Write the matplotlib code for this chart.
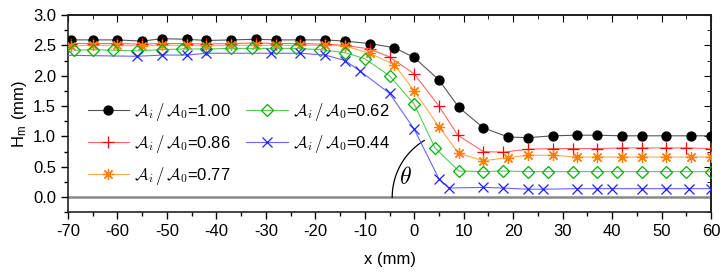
import numpy as np
import matplotlib
matplotlib.use("Agg")
import matplotlib.pyplot as plt
from matplotlib.ticker import MultipleLocator

plt.rcParams['font.family'] = ['Liberation Sans', 'DejaVu Sans']
plt.rcParams['mathtext.fontset'] = 'cm'
plt.rcParams['axes.unicode_minus'] = False

ratios = ["1.00", "0.86", "0.77", "0.62", "0.44"]

x_100 = [-69.3, -65, -60, -55, -51, -46, -42, -37, -32, -28, -23, -18, -14, -9, -4, 0, 5, 9, 14, 19, 23, 28, 33, 37, 42, 46, 51, 56, 60]
y_100 = [2.59, 2.59, 2.59, 2.57, 2.61, 2.60, 2.58, 2.59, 2.60, 2.59, 2.59, 2.59, 2.57, 2.53, 2.46, 2.30, 1.93, 1.48, 1.14, 0.99, 0.98, 1.01, 1.02, 1.02, 1.01, 1.01, 1.01, 1.01, 1.01]

x_086 = [-69.3, -65, -60, -55, -51, -46, -42, -37, -32, -28, -23, -18, -14, -9, -5, 0, 5, 8.8, 14, 18, 23, 28, 32, 37, 42, 46, 51, 55, 60]
y_086 = [2.53, 2.53, 2.53, 2.52, 2.53, 2.53, 2.52, 2.53, 2.54, 2.53, 2.53, 2.52, 2.50, 2.44, 2.31, 2.03, 1.50, 1.02, 0.75, 0.74, 0.79, 0.80, 0.80, 0.80, 0.81, 0.81, 0.81, 0.81, 0.80]

x_077 = [-69.3, -65, -60, -55, -51, -46, -42, -37, -32, -28, -23, -18, -14, -9, -4, 0, 5, 9, 14, 19, 23, 28, 33, 37, 42, 46, 51, 56, 60]
y_077 = [2.49, 2.50, 2.50, 2.49, 2.50, 2.50, 2.49, 2.50, 2.50, 2.50, 2.50, 2.50, 2.49, 2.37, 2.18, 1.75, 1.16, 0.72, 0.60, 0.65, 0.69, 0.69, 0.66, 0.66, 0.66, 0.66, 0.66, 0.66, 0.66]

x_062 = [-68.7, -65, -61, -56, -51, -47, -42, -37, -32.8, -28, -24, -19, -14, -10, -5, 0, 4.2, 9, 14, 18, 23, 27, 32, 37, 41, 46, 51, 55, 60]
y_062 = [2.42, 2.43, 2.42, 2.41, 2.43, 2.44, 2.44, 2.45, 2.45, 2.45, 2.45, 2.43, 2.38, 2.28, 2.00, 1.53, 0.81, 0.43, 0.42, 0.43, 0.42, 0.42, 0.42, 0.42, 0.42, 0.42, 0.42, 0.42, 0.42]

x_044 = [-74, -56, -51, -46, -42, -29, -23, -18, -14, -11, -5, 0, 5, 7, 14, 18, 23, 26, 33, 37, 40, 46, 51, 55.5, 60]
y_044 = [2.34, 2.32, 2.34, 2.34, 2.37, 2.37, 2.37, 2.34, 2.25, 2.08, 1.71, 1.12, 0.30, 0.15, 0.16, 0.15, 0.13, 0.13, 0.14, 0.14, 0.14, 0.14, 0.14, 0.14, 0.14]

xs = [x_100, x_086, x_077, x_062, x_044]
ys = [y_100, y_086, y_077, y_062, y_044]

line_colors = ['#555555', '#ff6666', '#ffaa55', '#55cc55', '#6666ff']
mk_colors = ['#000000', '#ff0000', '#ff8000', '#00b000', '#2020ff']
markers = ['o', '+', (8, 2, 0), 'D', 'x']
msizes = [6.5, 8, 8, 6, 7]

fig = plt.figure(figsize=(7.28, 2.73), dpi=100)
ax = fig.add_axes([68/728, 1-212.3/273, (711-68)/728, (212.3-15)/273])

ax.axhline(0, color='#888888', lw=1.8, zorder=1)

for i in range(5):
    fc = mk_colors[i] if markers[i] == 'o' else 'none'
    ax.plot(xs[i], ys[i], color=line_colors[i], lw=0.8, marker=markers[i],
            ms=msizes[i], mec=mk_colors[i], mfc=fc, mew=0.9,
            label=r"$\mathcal{A}_i\,/\,\mathcal{A}_0$=" + ratios[i], zorder=3)

# contact angle arc (annotation)
px_per_mm = (711-68)/130.0
px_per_unit = (197-15)/3.0
xc = (458-414)/px_per_mm
r = 66.0
t = np.linspace(np.radians(121), np.pi, 60)
ax.plot(xc + r*np.cos(t)/px_per_mm, r*np.sin(t)/px_per_unit, color='black', lw=0.9, zorder=2)
ax.text(-1.8, 0.31, r"$\theta$", fontsize=17, ha='center', va='center')

ax.set_xlim(-70, 60)
ax.set_ylim(-0.25, 3.0)
ax.xaxis.set_major_locator(MultipleLocator(10))
ax.xaxis.set_minor_locator(MultipleLocator(5))
ax.yaxis.set_minor_locator(MultipleLocator(0.25))
ax.set_yticks(np.arange(0, 3.01, 0.5))
ax.yaxis.set_major_formatter(matplotlib.ticker.FormatStrFormatter('%.1f'))
ax.tick_params(which='both', direction='out', labelsize=12, width=1.0, colors='black')
ax.tick_params(which='major', length=5)
ax.tick_params(which='minor', length=3)

for s in ax.spines.values():
    s.set_linewidth(1.2)
    s.set_color('#222222')

top = ax.secondary_xaxis('top')
top.xaxis.set_major_locator(MultipleLocator(10))
top.xaxis.set_minor_locator(MultipleLocator(5))
top.tick_params(which='both', direction='in', labeltop=False)
top.tick_params(which='major', length=5)
top.tick_params(which='minor', length=3)
right = ax.secondary_yaxis('right')
right.yaxis.set_major_locator(MultipleLocator(0.5))
right.yaxis.set_minor_locator(MultipleLocator(0.25))
right.tick_params(which='both', direction='in', labelright=False)
right.tick_params(which='major', length=5)
right.tick_params(which='minor', length=3)
for sec in (top, right):
    for s in sec.spines.values():
        s.set_linewidth(1.2)

ax.set_xlabel("x (mm)", fontsize=12, labelpad=9)
ax.set_ylabel(r"H$_\mathregular{m}$ (mm)", fontsize=12, labelpad=3)

leg = ax.legend(ncol=2, loc='upper left', bbox_to_anchor=(0.02, 0.60), frameon=False,
                fontsize=12, handlelength=2.5, labelspacing=0.6, columnspacing=0.9,
                handletextpad=0.3, borderaxespad=0)

fig.savefig("out.png", dpi=100)
